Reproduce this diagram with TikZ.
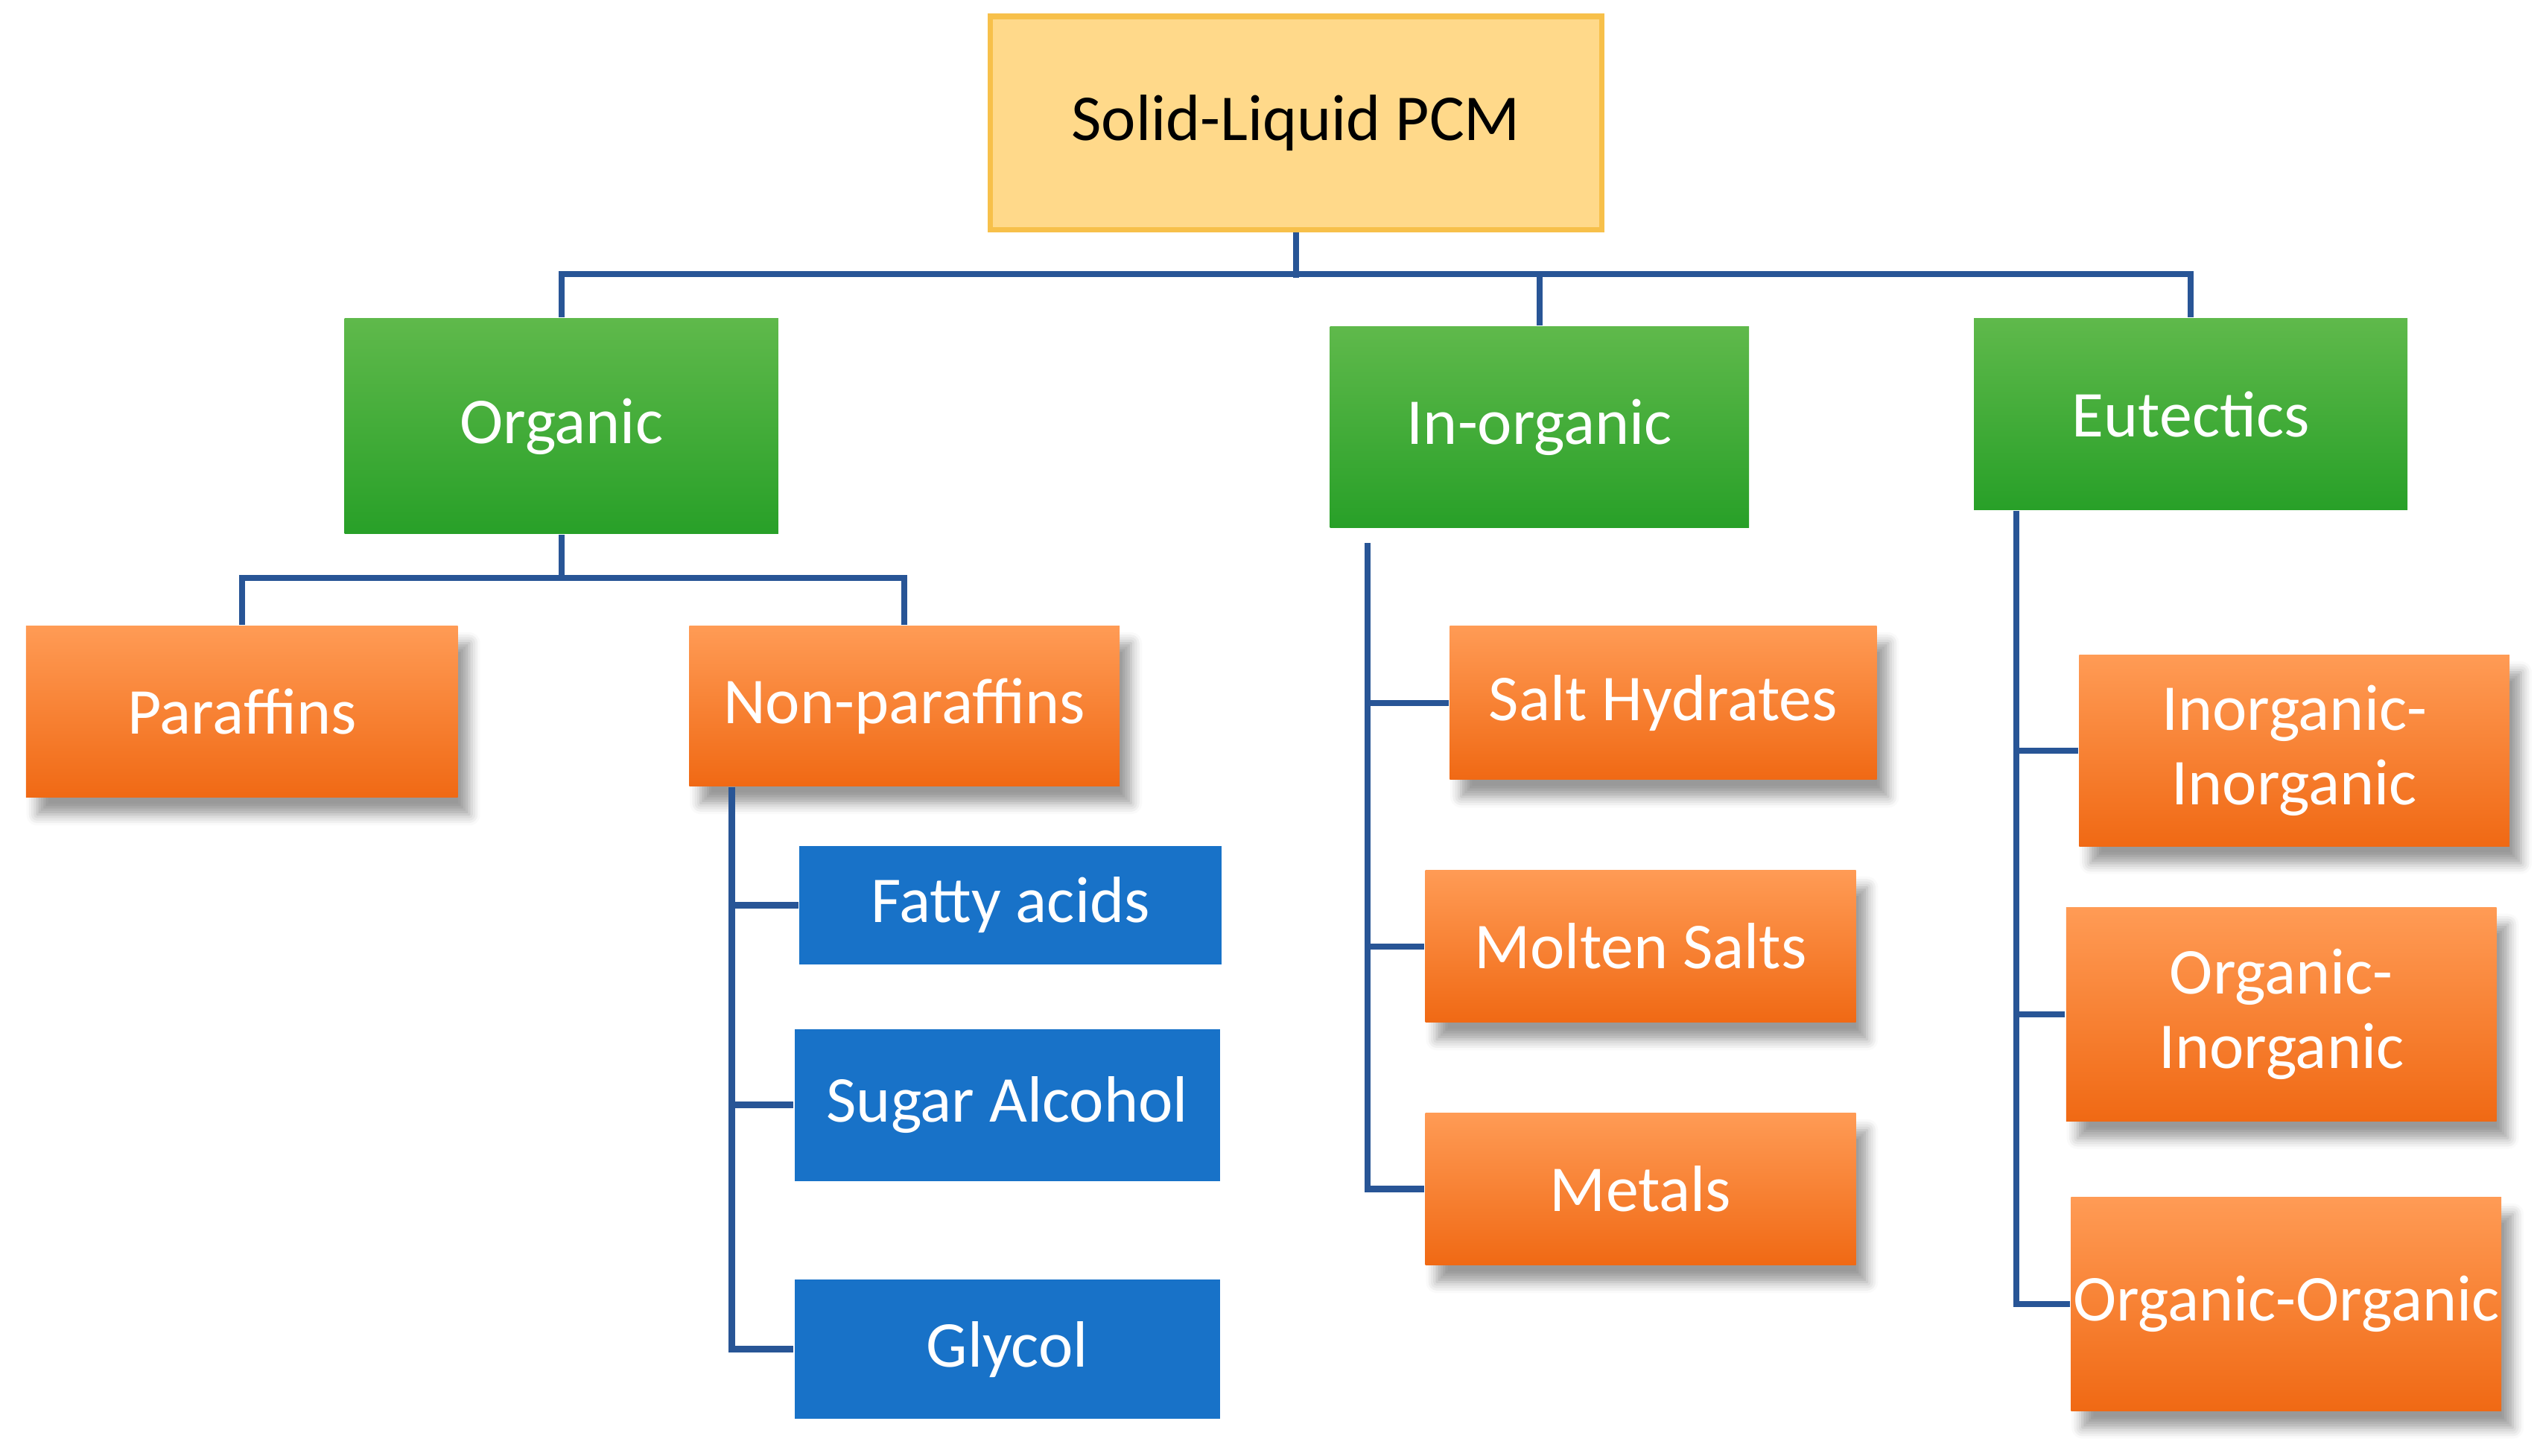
\documentclass[tikz,border=0pt]{standalone}
\usepackage{fontspec}
\setmainfont{Carlito}
\usetikzlibrary{shadows.blur}
\begin{document}
\begin{tikzpicture}[x=0.01cm,y=-0.01cm,
  bx/.style={draw=none,text=white,font=\fontsize{11.5}{13}\selectfont,align=center,inner sep=0pt},
  grn/.style={bx,top color=green!50!black!60!white!100,top color={rgb,255:red,95;green,185;blue,75},bottom color={rgb,255:red,40;green,160;blue,40}},
  org/.style={bx,top color={rgb,255:red,255;green,155;blue,85},bottom color={rgb,255:red,240;green,105;blue,20},blur shadow={shadow xshift=2pt,shadow yshift=-3pt,shadow blur steps=5,shadow opacity=40}},
  blu/.style={bx,fill={rgb,255:red,24;green,114;blue,200}},
  ln/.style={draw={rgb,255:red,40;green,85;blue,150},line width=1.1pt}]
\useasboundingbox (0,0) rectangle (1568,900);
\newcommand\bx[7]{\node[#6,minimum width={(#4-#2)*0.01cm},minimum height={(#5-#3)*0.01cm}] (#1) at ({(#2+#4)/2},{(#3+#5)/2}) {#7};}
\bx{root}{612}{10}{990}{142}{bx,fill={rgb,255:red,255;green,217;blue,138},draw={rgb,255:red,247;green,192;blue,74},line width=1pt,text=black}{Solid-Liquid PCM}
\bx{og}{213}{197}{481}{330}{grn}{Organic}
\bx{ig}{822}{202}{1081}{326}{grn}{In-organic}
\bx{eu}{1220}{197}{1488}{315}{grn}{Eutectics}
\bx{pa}{16}{387}{283}{493}{org}{Paraffins}
\bx{np}{426}{387}{692}{486}{org}{Non-paraffins}
\bx{fa}{494}{523}{755}{596}{blu}{Fatty acids}
\bx{sa}{491}{636}{754}{730}{blu}{Sugar Alcohol}
\bx{gl}{491}{791}{754}{877}{blu}{Glycol}
\bx{sh}{896}{387}{1160}{482}{org}{Salt Hydrates}
\bx{ms}{881}{538}{1147}{632}{org}{Molten Salts}
\bx{me}{881}{688}{1147}{782}{org}{Metals}
\bx{ii}{1285}{405}{1551}{523}{org}{Inorganic-\\Inorganic}
\bx{oi}{1277}{561}{1543}{693}{org}{Organic-\\Inorganic}
\bx{oo}{1280}{740}{1546}{872}{org}{Organic-Organic}
\draw[ln] (root.south) -- ++(0,28);
\draw[ln] (og.north) -- ++(0,-27) -| (eu.north);
\draw[ln] (ig.north) -- ++(0,-32);
\draw[ln] (og.south) -- ++(0,28);
\draw[ln] (pa.north) -- ++(0,-29) -| (np.north);
\draw[ln] ([xshift=0.27cm]np.south west) |- (fa.west);
\draw[ln] ([xshift=0.27cm]np.south west) |- (sa.west);
\draw[ln] ([xshift=0.27cm]np.south west) |- (gl.west);
\draw[ln] ([xshift=0.24cm,yshift=-0.09cm]ig.south west) |- (sh.west);
\draw[ln] ([xshift=0.24cm,yshift=-0.09cm]ig.south west) |- (ms.west);
\draw[ln] ([xshift=0.24cm,yshift=-0.09cm]ig.south west) |- (me.west);
\draw[ln] ([xshift=0.27cm]eu.south west) |- (ii.west);
\draw[ln] ([xshift=0.27cm]eu.south west) |- (oi.west);
\draw[ln] ([xshift=0.27cm]eu.south west) |- (oo.west);
\end{tikzpicture}
\end{document}
